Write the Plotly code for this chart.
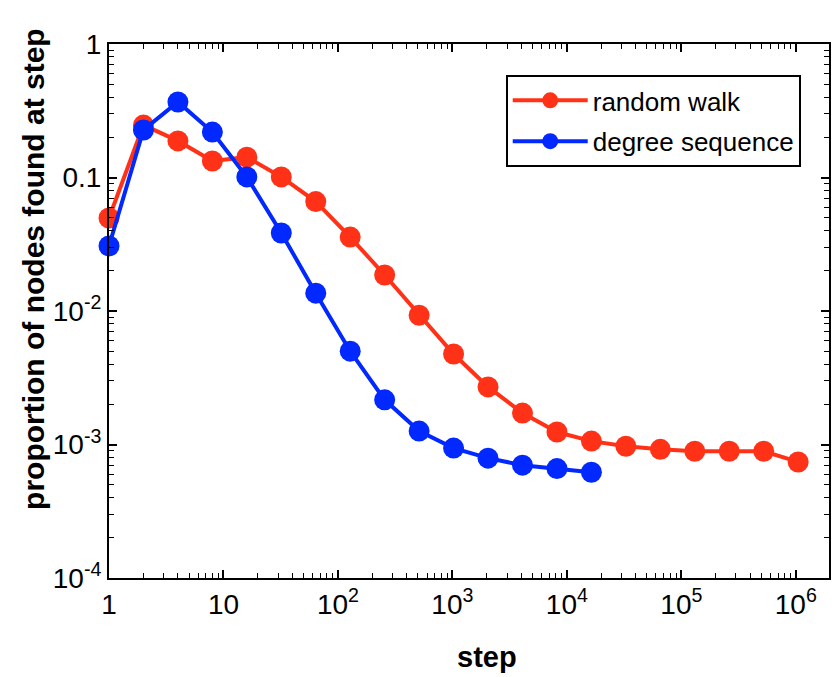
import plotly.graph_objects as go

# Data
rw_steps = [2**i for i in range(21)]
rw_vals = [0.0497, 0.247, 0.188, 0.133, 0.142, 0.101, 0.066, 0.0358, 0.0186, 0.0093,
           0.00476, 0.0027, 0.00172, 0.00124, 0.00106, 0.00097, 0.00092, 0.00089,
           0.00089, 0.00089, 0.00074]

ds_steps = [2**i for i in range(15)]
ds_vals = [0.0307, 0.227, 0.368, 0.219, 0.101, 0.0384, 0.0136, 0.0050, 0.00216,
           0.00126, 0.00094, 0.00079, 0.00070, 0.00066, 0.00062]

x_tickvals = [1, 10, 100, 1e3, 1e4, 1e5, 1e6]
x_ticktext = ["1", "10", "10<sup>2</sup>", "10<sup>3</sup>", "10<sup>4</sup>",
              "10<sup>5</sup>", "10<sup>6</sup>"]
y_tickvals = [1e-4, 1e-3, 1e-2, 0.1, 1]
y_ticktext = ["10<sup>-4</sup>", "10<sup>-3</sup>", "10<sup>-2</sup>", "0.1", "1"]

RED = "#FF3218"
BLUE = "#0028FF"
FONT = "Liberation Sans, Arial, sans-serif"

fig = go.Figure()
fig.add_trace(go.Scatter(x=rw_steps, y=rw_vals, mode="lines+markers", name="random walk",
                         legendgroup="rw", cliponaxis=False,
                         line=dict(color=RED, width=4),
                         marker=dict(color=RED, size=21)))
fig.add_trace(go.Scatter(x=ds_steps, y=ds_vals, mode="lines+markers", name="degree sequence",
                         legendgroup="ds", cliponaxis=False,
                         line=dict(color=BLUE, width=4),
                         marker=dict(color=BLUE, size=21)))

axis_common = dict(
    showgrid=False, zeroline=False, showline=True, linecolor="black", linewidth=2,
    mirror="allticks", ticks="inside", ticklen=8, tickwidth=1.5, tickcolor="black",
    tickfont=dict(family=FONT, size=28, color="black"),
    minor=dict(ticks="inside", ticklen=5, tickwidth=1, tickcolor="black",
               dtick="D1", showgrid=False),
)

fig.update_xaxes(type="log", range=[0, 6.29], tickmode="array", tickvals=x_tickvals,
                 ticktext=x_ticktext, **axis_common)
fig.update_yaxes(type="log", range=[-4, 0], tickmode="array", tickvals=y_tickvals,
                 ticktext=y_ticktext, **axis_common)

fig.add_annotation(text="<b>step</b>", xref="paper", yref="paper", x=0.525, y=-0.148,
                   xanchor="center", yanchor="middle", showarrow=False,
                   font=dict(family=FONT, size=29, color="black"))
fig.add_annotation(text="<b>proportion of nodes found at step</b>", xref="paper", yref="paper",
                   x=-0.104, y=0.579, xanchor="center", yanchor="middle", showarrow=False,
                   textangle=-90, font=dict(family=FONT, size=30, color="black"))

fig.update_layout(
    width=834, height=677,
    margin=dict(l=109, r=3, t=44, b=99),
    paper_bgcolor="white", plot_bgcolor="white",
    showlegend=True,
    legend=dict(x=0.551, y=0.942, xanchor="left", yanchor="top",
                bordercolor="black", borderwidth=2, bgcolor="white",
                font=dict(family=FONT, size=26, color="black"),
                itemwidth=75, tracegroupgap=4),
)

fig.write_html("out.html")
